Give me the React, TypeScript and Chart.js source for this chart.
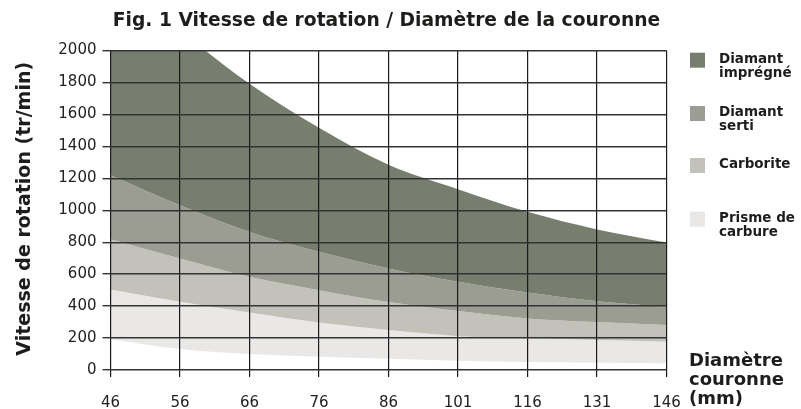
import React, { useEffect, useRef } from 'react';
import { Chart, registerables } from 'chart.js';

Chart.register(...registerables);

// ---- Data ----
const diameters = ['46', '56', '66', '76', '86', '101', '116', '131', '146'];
// Upper bound of "Diamant imprégné" (values above 2000 are clipped by the axis)
const impregneMax = [2550, 2132, 1792, 1517, 1285, 1132, 990, 880, 798];
// Boundary Diamant imprégné / Diamant serti
const sertiMax = [1219, 1031, 864, 740, 636, 552, 485, 431, 396];
// Boundary Diamant serti / Carborite
const carboriteMax = [819, 698, 583, 500, 425, 369, 323, 300, 281];
// Boundary Carborite / Prisme de carbure
const prismeMax = [504, 427, 360, 298, 250, 212, 198, 188, 177];
// Lower bound of "Prisme de carbure"
const prismeMin = [192, 131, 100, 83, 71, 58, 50, 46, 42];

const yMin = 0;
const yMax = 2000;
const yStep = 200;

const seriesNames = ['Diamant imprégné', 'Diamant serti', 'Carborite', 'Prisme de carbure'];
const legendLines = [['Diamant', 'imprégné'], ['Diamant', 'serti'], ['Carborite'], ['Prisme de', 'carbure']];
const bandColors = ['#787e6e', '#9b9d92', '#c2c2ba', '#e9e8e6'];

const chartTitle = 'Fig. 1 Vitesse de rotation / Diamètre de la couronne';
const yTitle = 'Vitesse de rotation (tr/min)';
const xTitleLines = ['Diamètre', 'couronne', '(mm)'];

const TEXT = '#1d1d1b';

const decorPlugin = {
  id: 'decor',
  afterDraw(chart: any) {
    const ctx = chart.ctx as CanvasRenderingContext2D;
    const a = chart.chartArea;
    ctx.save();
    ctx.fillStyle = TEXT;

    // Main title
    ctx.font = 'bold 18.7px "DejaVu Sans"';
    ctx.textAlign = 'center';
    ctx.textBaseline = 'alphabetic';
    ctx.fillText(chartTitle, (a.left + a.right) / 2 - 2, 26);

    // Y axis title (rotated)
    ctx.save();
    ctx.font = 'bold 19px "DejaVu Sans"';
    ctx.translate(30, (a.top + a.bottom) / 2 - 1.5);
    ctx.rotate(-Math.PI / 2);
    ctx.textAlign = 'center';
    ctx.fillText(yTitle, 0, 0);
    ctx.restore();

    // X axis title (right of the axis, three lines)
    ctx.font = 'bold 18px "DejaVu Sans"';
    ctx.textAlign = 'left';
    xTitleLines.forEach((line, i) => {
      ctx.fillText(line, a.right + 22.5, 366 + i * 19);
    });

    // Legend
    const tops = [52.7, 106, 158, 211.7];
    ctx.font = 'bold 13.5px "DejaVu Sans"';
    legendLines.forEach((lines, i) => {
      const top = tops[i];
      ctx.fillStyle = bandColors[i];
      ctx.fillRect(a.right + 23.5, top, 15, 15);
      ctx.fillStyle = TEXT;
      lines.forEach((line, j) => {
        ctx.fillText(line, a.right + 52.5, top + 9.8 + j * 14.5);
      });
    });

    ctx.restore();
  },
};

export default function App() {
  const canvasRef = useRef<HTMLCanvasElement | null>(null);

  useEffect(() => {
    document.body.style.margin = '0';
    const canvas = canvasRef.current;
    if (!canvas) return;

    const bounds = [impregneMax, sertiMax, carboriteMax, prismeMax, prismeMin];
    const datasets = bounds.map((data, i) => ({
      label: i < seriesNames.length ? seriesNames[i] : 'limite',
      data,
      backgroundColor: i < bandColors.length ? bandColors[i] : 'transparent',
      borderColor: 'transparent',
      borderWidth: 0,
      pointRadius: 0,
      pointHoverRadius: 0,
      cubicInterpolationMode: 'monotone' as const,
      fill: i < bandColors.length ? '+1' : false,
    }));

    const chart = new Chart(canvas, {
      type: 'line',
      data: { labels: diameters, datasets },
      options: {
        animation: false,
        responsive: false,
        devicePixelRatio: 1,
        events: [],
        layout: { padding: { top: 50.5, right: 134.5, left: 0, bottom: 0 } },
        plugins: {
          legend: { display: false },
          title: { display: false },
          tooltip: { enabled: false },
        },
        scales: {
          x: {
            type: 'category',
            offset: false,
            grid: { z: 1, color: '#1a1a1a', lineWidth: 1.2, tickLength: 7, drawOnChartArea: true },
            border: { display: false },
            ticks: {
              autoSkip: false,
              maxRotation: 0,
              padding: 17,
              color: '#222',
              font: { family: 'DejaVu Sans', size: 15 },
            },
            afterFit: (s: any) => {
              s.height = 39;
            },
          },
          y: {
            min: yMin,
            max: yMax,
            grid: { z: 1, color: '#333', lineWidth: 1.4, tickLength: 8 },
            border: { display: false },
            ticks: {
              stepSize: yStep,
              padding: 6,
              color: '#222',
              font: { family: 'DejaVu Sans', size: 15 },
              callback: (v: any) => String(v),
            },
            afterFit: (s: any) => {
              s.width = 110.5;
            },
          },
        },
      },
      plugins: [decorPlugin],
    });

    return () => chart.destroy();
  }, []);

  return (
    <div style={{ width: 801, height: 409, position: 'relative' }}>
      <canvas ref={canvasRef} width={801} height={409} style={{ display: 'block' }} />
    </div>
  );
}
